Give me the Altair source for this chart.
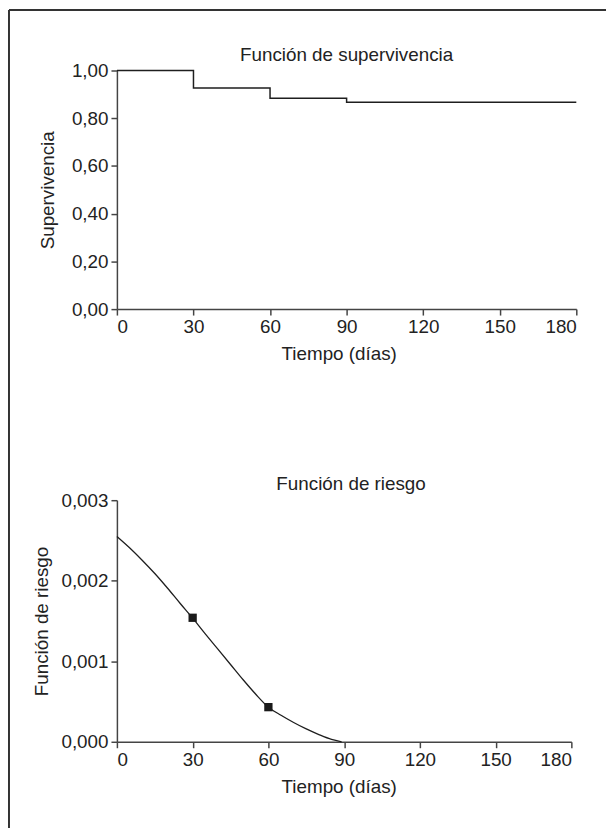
import altair as alt
import pandas as pd

FONT = "Liberation Sans"

# Survival function (step)
surv_t = [0, 30, 60, 90, 180]
surv_s = [1.00, 0.927, 0.884, 0.867, 0.867]

# Hazard function (smooth curve)
haz_t = [0, 5, 10, 15, 20, 25, 30, 35, 40, 45, 50, 55, 60, 65, 70, 75, 80, 85, 89]
haz_h = [0.00255, 0.00241, 0.002255, 0.00209, 0.00191, 0.00172, 0.001535,
         0.00134, 0.00115, 0.00096, 0.00077, 0.00059, 0.00043, 0.00033,
         0.00024, 0.00016, 0.00009, 0.00003, 0.0]

# Hazard markers
marker_t = [30, 60]
marker_h = [0.00154, 0.00043]

x_ticks = [0, 30, 60, 90, 120, 150, 180]
surv_ticks = [0.0, 0.2, 0.4, 0.6, 0.8, 1.0]
haz_ticks = [0.0, 0.001, 0.002, 0.003]

surv_df = pd.DataFrame({"t": surv_t, "s": surv_s})
haz_df = pd.DataFrame({"t": haz_t, "h": haz_h})
mark_df = pd.DataFrame({"t": marker_t, "h": marker_h})
one = pd.DataFrame({"a": [0]})

LINE = "#1e1e1e"
AX = "#444444"

def xaxis():
    return alt.Axis(values=x_ticks, title="Tiempo (días)", titleX=224,
                    titleAlign="center", titlePadding=8)

x_top = alt.X("t:Q", scale=alt.Scale(domain=[0, 180], nice=False), axis=xaxis())
x_bot = alt.X("t:Q", scale=alt.Scale(domain=[0, 180], nice=False), axis=xaxis())

surv_line = alt.Chart(surv_df).mark_line(
    interpolate="step-after", color=LINE, strokeWidth=1.5
).encode(
    x=x_top,
    y=alt.Y("s:Q", scale=alt.Scale(domain=[0, 1], nice=False),
            axis=alt.Axis(values=surv_ticks, title="Supervivencia", titlePadding=14,
                          labelExpr="replace(format(datum.value, '.2f'), '.', ',')")),
)

border_top = alt.Chart(one).mark_rule(color="#333333", strokeWidth=2).encode(
    x=alt.value(-109), x2=alt.value(494), y=alt.value(-61))
border_left = alt.Chart(one).mark_rule(color="#333333", strokeWidth=2).encode(
    x=alt.value(-109), y=alt.value(-61), y2=alt.value(765))

top = alt.layer(surv_line, border_top, border_left).properties(
    width=464, height=241,
    title=alt.TitleParams("Función de supervivencia", offset=-56, frame="group"),
)

haz_line = alt.Chart(haz_df).mark_line(
    interpolate="monotone", color=LINE, strokeWidth=1.3
).encode(
    x=x_bot,
    y=alt.Y("h:Q", scale=alt.Scale(domain=[0, 0.003], nice=False),
            axis=alt.Axis(values=haz_ticks, title="Función de riesgo", titlePadding=10,
                          labelExpr="replace(format(datum.value, '.3f'), '.', ',')")),
)
haz_pts = alt.Chart(mark_df).mark_square(size=70, color="#1a1a1a", opacity=1).encode(
    x="t:Q", y="h:Q")

bottom = alt.layer(haz_line, haz_pts).properties(
    width=459, height=244,
    title=alt.TitleParams("Función de riesgo", offset=-3, dx=7, frame="group"),
)

chart = alt.vconcat(top, bottom, spacing=193, bounds="flush").properties(
    padding={"left": 0, "top": -3, "right": 0, "bottom": 0}
).configure_view(stroke=None).configure_axis(
    grid=False, domainColor=AX, domainWidth=1.5, tickColor=AX, tickWidth=1.5,
    tickSize=6, labelPadding=3, labelFont=FONT, labelFontSize=19,
    labelColor="#222222", titleFont=FONT, titleFontSize=19,
    titleFontWeight="normal", titleColor="#222222",
).configure_title(
    font=FONT, fontSize=19, fontWeight="normal", color="#222222", anchor="middle"
)

chart.save("out.html", embed_options={"renderer": "svg", "actions": False})
